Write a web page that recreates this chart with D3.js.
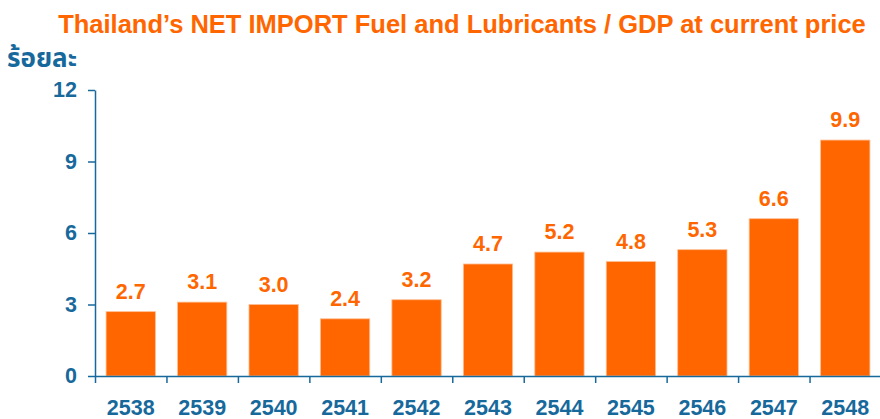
<!DOCTYPE html>
<html><head><meta charset="utf-8">
<script src="https://cdn.jsdelivr.net/npm/d3@7"></script>
<style>body{margin:0;background:#fff;}svg{display:block;font-family:Arial,"Liberation Sans",sans-serif;}</style>
</head><body>
<svg id="c" width="880" height="419"></svg>
<script>
const categories = ["2538","2539","2540","2541","2542","2543","2544","2545","2546","2547","2548"];
const values = [2.7,3.1,3.0,2.4,3.2,4.7,5.2,4.8,5.3,6.6,9.9];
const yTicks = [0,3,6,9,12];
const title = "Thailand\u2019s NET IMPORT Fuel and Lubricants / GDP at current price";
const yUnit = "ร้อยละ";

const orange = "#FF6600", blue = "#17699C";
const svg = d3.select("#c");
const pLeft = 95, pRight = 881, pTop = 90, pBottom = 376;

const y = d3.scaleLinear().domain([0,12]).range([pBottom, pTop]);
const x = d3.scaleBand().domain(categories).range([pLeft, pRight]).paddingInner(0.31).paddingOuter(0.155);
const xi = d3.scaleLinear().domain([0, categories.length]).range([pLeft, pRight]);

// title
svg.append("text").attr("x", 462).attr("y", 33).attr("text-anchor","middle")
  .attr("fill", orange).attr("font-weight","bold").attr("font-size", 25.5).text(title);
svg.append("text").attr("x", 7).attr("y", 67)
  .attr("fill", blue).attr("font-weight","bold").attr("font-size", 26)
  .attr("font-family","'Noto Sans Thai','Noto Sans','DejaVu Sans',sans-serif").text(yUnit);

// bars
svg.append("g").selectAll("rect").data(values).join("rect")
  .attr("x", (d,i) => x(categories[i]))
  .attr("width", x.bandwidth())
  .attr("y", d => y(d))
  .attr("height", d => y(0) - y(d))
  .attr("fill", orange).attr("stroke", "#ffbf94").attr("stroke-width", 0.8);

svg.append("g").selectAll("text").data(values).join("text")
  .attr("x", (d,i) => x(categories[i]) + x.bandwidth()/2)
  .attr("y", d => y(d) - 13)
  .attr("text-anchor","middle").attr("fill", orange)
  .attr("font-weight","bold").attr("font-size", 21.5)
  .text(d => d.toFixed(1));

// y axis
const ya = svg.append("g").attr("transform", `translate(${pLeft},0)`)
  .call(d3.axisLeft(y).tickValues(yTicks).tickSize(7).tickPadding(11).tickSizeOuter(0));
ya.select(".domain").attr("stroke", blue).attr("stroke-width", 1.5);
ya.selectAll(".tick line").attr("stroke", blue).attr("stroke-width", 1.5);
ya.selectAll(".tick text").attr("fill", blue).attr("font-size", 21.5).attr("font-weight","bold")
  .attr("font-family","Arial,'Liberation Sans',sans-serif");

// x axis: boundary ticks
const xa = svg.append("g").attr("transform", `translate(0,${pBottom})`)
  .call(d3.axisBottom(xi).tickValues(d3.range(categories.length + 1)).tickSize(7).tickFormat("").tickSizeOuter(0));
xa.select(".domain").attr("stroke", blue).attr("stroke-width", 1.5);
xa.selectAll(".tick line").attr("stroke", blue).attr("stroke-width", 1.5);

// x labels
const xl = svg.append("g").attr("transform", `translate(0,${pBottom})`)
  .call(d3.axisBottom(x).tickSize(0).tickPadding(24));
xl.select(".domain").remove();
xl.selectAll(".tick text").attr("fill", blue).attr("font-size", 21.5).attr("font-weight","bold")
  .attr("font-family","Arial,'Liberation Sans',sans-serif");
</script>
</body></html>
